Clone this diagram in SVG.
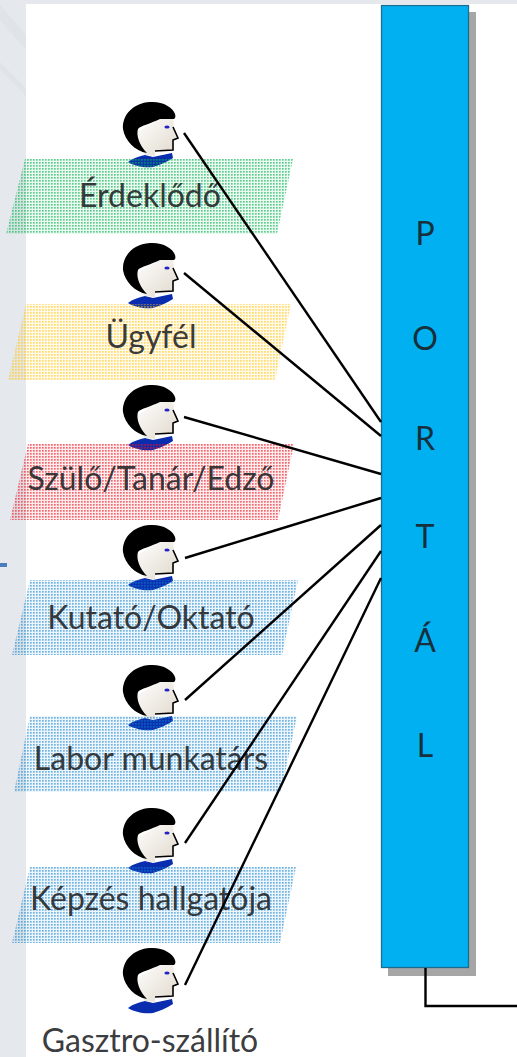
<svg xmlns="http://www.w3.org/2000/svg" width="517" height="1057" viewBox="0 0 517 1057">
<style>
.lbl{font-family:"Lato","Carlito","Liberation Sans",sans-serif;font-size:32px;fill:#1f2326;fill-opacity:.9;text-anchor:middle}
.port{font-family:"Lato","Carlito","Liberation Sans",sans-serif;font-size:32px;fill:#17303c;text-anchor:middle}
.conn{stroke:#000;stroke-width:2.4;fill:none}
</style>
<defs>
<pattern id="pg" width="3" height="3" patternUnits="userSpaceOnUse"><rect width="3" height="3" fill="#00b050" fill-opacity=".08"/><rect width="1.700" height="1.700" fill="#00b050" fill-opacity=".6"/></pattern>
<pattern id="py" width="3" height="3" patternUnits="userSpaceOnUse"><rect width="3" height="3" fill="#ffc000" fill-opacity=".08"/><rect width="1.700" height="1.700" fill="#ffc000" fill-opacity=".55"/></pattern>
<pattern id="pr" width="3" height="3" patternUnits="userSpaceOnUse"><rect width="3" height="3" fill="#e8101f" fill-opacity=".08"/><rect width="1.700" height="1.700" fill="#e8101f" fill-opacity=".6"/></pattern>
<pattern id="pb" width="3" height="3" patternUnits="userSpaceOnUse"><rect width="3" height="3" fill="#0a7cc8" fill-opacity=".08"/><rect width="1.700" height="1.700" fill="#0a7cc8" fill-opacity=".55"/></pattern>
<linearGradient id="face" x1="0" y1="0" x2="1" y2="1"><stop offset="0" stop-color="#fff"/><stop offset="1" stop-color="#e0d8cb"/></linearGradient>
<symbol id="person" width="60" height="70" viewBox="0 0 60 70" overflow="visible">
<path d="M8 60 C13 56 20 54 25 53 L33 55 L52 51 L53 56 C47 60 40 63 33 65 C24 66 14 64 8 60Z" fill="#0a2db0"/>
<path d="M17 30 L40 17 L53 16 L54 26 L58 36 L53 38 L53 48 L35 49 L35 54 L25 53 L22 48Z" fill="url(#face)"/>
<path d="M30 0 C42 -1 53 5 55 12 C56 15 55 16 54 17 L40 17 C32 21 20 24 18 27 C16 33 19 43 27 51 C15 49 5 39 3 27 C2 13 13 1 30 0Z" fill="#000"/>
<path d="M53 25 L58 36 L53 38 L53 48 L35 49" fill="none" stroke="#000" stroke-width="1.600"/>
<ellipse cx="47" cy="25" rx="2.600" ry="1.600" fill="#2222c8"/>
</symbol>
</defs>
<rect width="517" height="1057" fill="#fff"/>
<g id="background">
<rect width="517" height="4" fill="#e5e8ed"/>
<rect width="26" height="1057" fill="#e5e8ed"/>
<path d="M0 5 L26 35 L26 50 L0 20Z M0 62 L26 88 L26 96 L0 70Z" fill="#e0e4e8"/>
<rect x="0" y="563" width="7" height="4" fill="#4a7dbd"/>
</g>
<g id="node-erdeklodo">
<use href="#person" x="120" y="102"/>
<polygon points="25,159 293,159 277,234 6,234" fill="url(#pg)"/>
<text class="lbl" x="150" y="207">Érdeklődő</text>
</g>
<g id="node-ugyfel">
<use href="#person" x="120" y="243"/>
<polygon points="26,304 291,304 275,380 8,380" fill="url(#py)"/>
<text class="lbl" x="151" y="348">Ügyfél</text>
</g>
<g id="node-szulo">
<use href="#person" x="120" y="385"/>
<polygon points="28,444 294,444 278,520 10,520" fill="url(#pr)"/>
<text class="lbl" x="151" y="490">Szülő/Tanár/Edző</text>
</g>
<g id="node-kutato">
<use href="#person" x="120" y="525"/>
<polygon points="30,580 298,580 282,655 12,655" fill="url(#pb)"/>
<text class="lbl" x="151" y="629">Kutató/Oktató</text>
</g>
<g id="node-labor">
<use href="#person" x="120" y="665"/>
<polygon points="30,716 297,716 281,792 14,792" fill="url(#pb)"/>
<text class="lbl" x="151" y="770">Labor munkatárs</text>
</g>
<g id="node-kepzes">
<use href="#person" x="120" y="808"/>
<polygon points="30,867 296,867 280,943 12,943" fill="url(#pb)"/>
<text class="lbl" x="151" y="910">Képzés hallgatója</text>
</g>
<g id="node-gasztro">
<use href="#person" x="120" y="948"/>
<text class="lbl" x="150" y="1052">Gasztro-szállító</text>
</g>
<g id="node-portal">
<rect x="388" y="12" width="88" height="964" fill="#a6a6a6"/>
<rect x="381.500" y="5.500" width="87" height="962" fill="#00b0f0" stroke="#1d6d8f" stroke-width="1.300"/>
<text class="port" x="425" y="245">P</text>
<text class="port" x="425" y="350">O</text>
<text class="port" x="425" y="450">R</text>
<text class="port" x="425" y="548">T</text>
<text class="port" x="425" y="652">Á</text>
<text class="port" x="425" y="757">L</text>
</g>
<g id="connectors">
<line class="conn" x1="184" y1="133" x2="381" y2="422"/>
<line class="conn" x1="184" y1="273" x2="381" y2="436"/>
<line class="conn" x1="184" y1="417" x2="381" y2="474"/>
<line class="conn" x1="185" y1="558" x2="381" y2="498"/>
<line class="conn" x1="185" y1="700" x2="381" y2="525"/>
<line class="conn" x1="185" y1="843" x2="381" y2="551"/>
<line class="conn" x1="185" y1="985" x2="381" y2="578"/>
<path class="conn" d="M425.500 968 V1006 H517"/>
</g>
</svg>
